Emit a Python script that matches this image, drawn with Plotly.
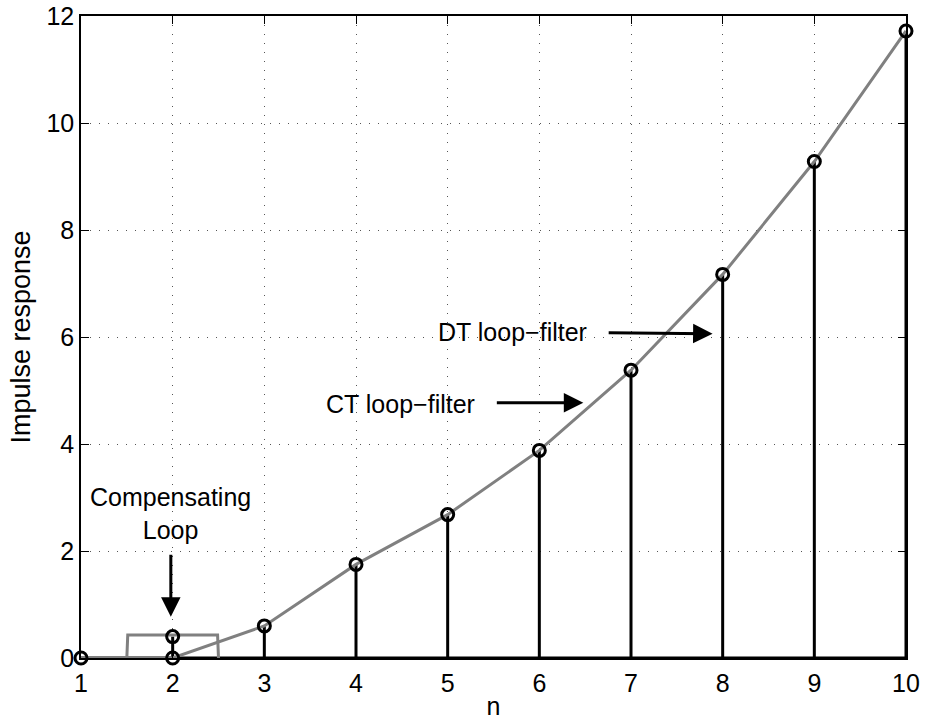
import plotly.graph_objects as go

# Discrete-time impulse response samples
n = [1, 2, 3, 4, 5, 6, 7, 8, 9, 10]
h_dt = [0.0, 0.0, 0.6, 1.75, 2.68, 3.88, 5.38, 7.17, 9.28, 11.72]

# Extra sample added by the compensating loop at n = 2
comp_n = [2]
comp_h = [0.4]

# Continuous-time loop-filter response (sampled curve)
ct_x = [1, 2, 3, 4, 5, 6, 7, 8, 9, 10]
ct_y = [0.0, 0.0, 0.6, 1.75, 2.68, 3.88, 5.38, 7.17, 9.28, 11.72]

# Rectangular pulse of the compensating loop
pulse_x = [1.5, 1.51, 2.49, 2.5]
pulse_y = [0.0, 0.43, 0.43, 0.0]

x_ticks = [1, 2, 3, 4, 5, 6, 7, 8, 9, 10]
y_ticks = [0, 2, 4, 6, 8, 10, 12]

FONT = "Liberation Sans, Arial, Helvetica, sans-serif"
FS = 25

# stems: vertical segments from 0 to each sample value
stem_x, stem_y = [], []
for xi, yi in zip(n + comp_n, h_dt + comp_h):
    stem_x += [xi, xi, None]
    stem_y += [0, yi, None]

fig = go.Figure()

# stem baseline
fig.add_trace(go.Scatter(x=[n[0], n[-1]], y=[0, 0], mode="lines",
                         line=dict(color="black", width=3),
                         hoverinfo="skip", showlegend=False))
fig.add_trace(go.Scatter(x=stem_x, y=stem_y, mode="lines",
                         line=dict(color="black", width=3),
                         hoverinfo="skip", showlegend=False))

# CT curve and compensating pulse
fig.add_trace(go.Scatter(x=pulse_x, y=pulse_y, mode="lines",
                         line=dict(color="#808080", width=3),
                         showlegend=False))
fig.add_trace(go.Scatter(x=ct_x, y=ct_y, mode="lines",
                         line=dict(color="#808080", width=3),
                         showlegend=False))

# stem heads (not clipped at the frame edges)
fig.add_trace(go.Scatter(x=n + comp_n, y=h_dt + comp_h, mode="markers",
                         cliponaxis=False,
                         marker=dict(symbol="circle-open", size=12,
                                     color="black", line=dict(width=3)),
                         showlegend=False))

txt = dict(family=FONT, size=FS, color="black")
arrow = dict(showarrow=True, arrowhead=2, arrowsize=1.3, arrowwidth=3,
             arrowcolor="black", axref="x", ayref="y", xref="x", yref="y",
             text="")

fig.add_annotation(x=1.98, y=0.77, ax=1.98, ay=1.96, **arrow)
fig.add_annotation(x=6.48, y=4.77, ax=5.52, ay=4.77, **arrow)
fig.add_annotation(x=7.89, y=6.06, ax=6.74, ay=6.08, **arrow)

fig.add_annotation(x=1.98, y=2.71, xref="x", yref="y", showarrow=False,
                   text="Compensating<br>Loop", font=txt, align="center")
fig.add_annotation(x=4.49, y=4.75, xref="x", yref="y", showarrow=False,
                   text="CT loop\u2212filter", font=txt)
fig.add_annotation(x=5.71, y=6.09, xref="x", yref="y", showarrow=False,
                   text="DT loop\u2212filter", font=txt)

axis_common = dict(showline=True, linecolor="black", linewidth=1.5,
                   mirror="ticks", ticks="inside", ticklen=8,
                   tickcolor="black", tickwidth=1,
                   showgrid=True, gridcolor="#555555", gridwidth=1,
                   griddash="1px,8px", zeroline=False,
                   tickfont=dict(family=FONT, size=FS, color="black"))

fig.update_xaxes(range=[1, 10], tickvals=x_ticks, ticklabelstandoff=2,
                 title=dict(text="n", font=dict(family=FONT, size=FS, color="black"),
                            standoff=2),
                 **axis_common)
fig.update_yaxes(range=[0, 12], tickvals=y_ticks, ticklabelstandoff=0,
                 title=dict(text="Impulse response",
                            font=dict(family=FONT, size=27, color="black"),
                            standoff=8),
                 **axis_common)

fig.update_layout(width=925, height=721, plot_bgcolor="white",
                  paper_bgcolor="white",
                  margin=dict(l=81, r=19, t=16, b=63, autoexpand=False))

fig.write_html("out.html")
